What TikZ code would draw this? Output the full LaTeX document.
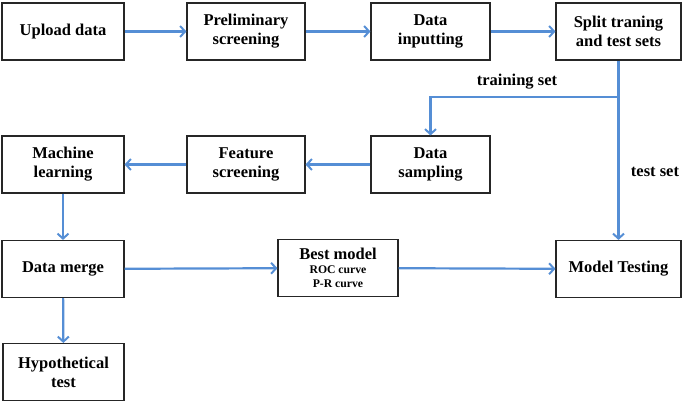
\documentclass[tikz,border=0pt]{standalone}
\usepackage{fontspec}
\setmainfont{Liberation Serif}
\usetikzlibrary{arrows.meta}
\definecolor{flowblue}{RGB}{85,142,213}
\tikzset{
	stepbox/.style={draw=black!85, line width=1.1pt, minimum width=120pt, minimum height=57pt, inner sep=0pt, align=center, font=\fontsize{16.5}{19}\selectfont\bfseries},
	flow/.style={draw=flowblue, line width=2.2pt, -{Straight Barb[length=5pt,width=11pt,line width=2pt]}},
	flowlabel/.style={font=\fontsize{16.5}{19}\selectfont\bfseries}
}
\begin{document}
\begin{tikzpicture}[x=1pt,y=-1pt]
		\useasboundingbox (0,0) rectangle (685,404);
		% erste Reihe
		\node[stepbox, minimum width=122pt] (upload) at (63,31.5) {Upload data};
		\node[stepbox, minimum width=118pt] (prelim) at (246,31.5) {Preliminary\\screening};
		\node[stepbox, minimum width=119pt] (inputting) at (430.5,31.5) {Data\\inputting};
		\node[stepbox, minimum width=125pt] (split) at (618.5,31.5) {Split traning\\and test sets};
		% zweite Reihe
		\node[stepbox, minimum width=119pt] (sampling) at (430.5,164.5) {Data\\sampling};
		\node[stepbox, minimum width=118pt] (feature) at (246,164.5) {Feature\\screening};
		\node[stepbox, minimum width=122pt] (machine) at (63,164.5) {Machine\\learning};
		% dritte Reihe
		\node[stepbox, minimum width=122pt] (merge) at (63,269) {Data merge};
		\node[stepbox, font=\fontsize{11.7}{14}\selectfont\bfseries] (best) at (338,268) {\fontsize{16.5}{14}\selectfont Best model\\ROC curve\\P-R curve};
		\node[stepbox, minimum width=125pt] (testing) at (618.5,269) {Model Testing};
		\node[stepbox, minimum width=121pt] (hypo) at (63.5,372) {Hypothetical\\test};
		% Pfeile
		\draw[flow] (upload) -- (prelim);
		\draw[flow] (prelim) -- (inputting);
		\draw[flow] (inputting) -- (split);
		\coordinate (fork) at (618.5,97);
		\draw[flow] (split) -- (testing);
		\draw[flow] (fork) -| (sampling.north);
		\draw[flow] (sampling) -- (feature);
		\draw[flow] (feature) -- (machine);
		\draw[flow] (machine) -- (merge);
		\draw[flow] (merge) -- (best);
		\draw[flow] (best) -- (testing);
		\draw[flow] (merge) -- (hypo);
		% Beschriftungen
		\node[flowlabel] (trainlabel) at (517,82) {training set};
		\node[flowlabel] (testlabel) at (655,172) {test set};
\end{tikzpicture}
\end{document}
